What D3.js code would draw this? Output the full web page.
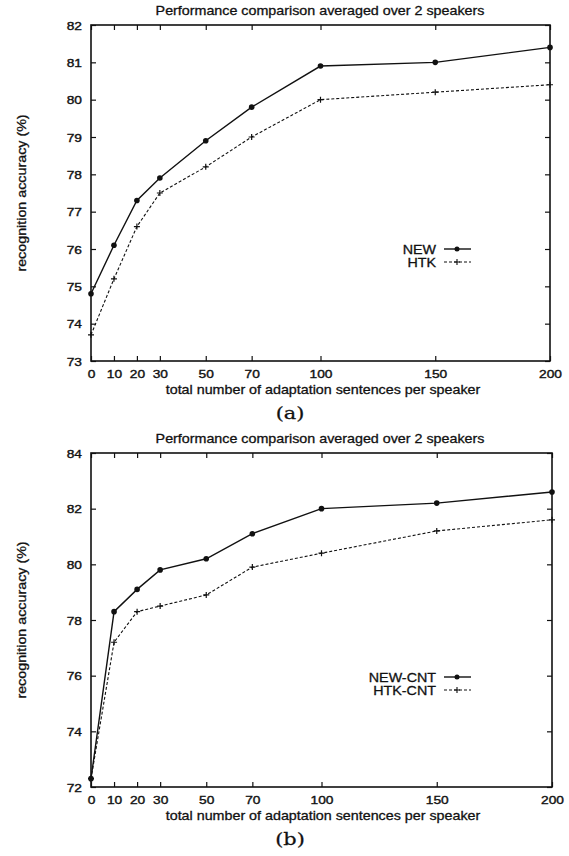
<!DOCTYPE html>
<html>
<head>
<meta charset="utf-8">
<script src="https://cdn.jsdelivr.net/npm/d3@7"></script>
<style>
  body { margin: 0; background: #fff; }
  svg { display: block; }
  text { font-family: "Liberation Sans", Arial, Helvetica, sans-serif; fill: #111; }
</style>
</head>
<body>
<svg id="chart" width="569" height="856"></svg>
<script>
// x values shared by both panels
const sentences = [0, 10, 20, 30, 50, 70, 100, 150, 200];
const xTicks = [0, 10, 20, 30, 50, 70, 100, 150, 200];

// panel (a)
const newA = [74.8, 76.1, 77.3, 77.9, 78.9, 79.8, 80.9, 81.0, 81.4];
const htkA = [73.7, 75.2, 76.6, 77.5, 78.2, 79.0, 80.0, 80.2, 80.4];
const yTicksA = [73, 74, 75, 76, 77, 78, 79, 80, 81, 82];

// panel (b)
const newB = [72.3, 78.3, 79.1, 79.8, 80.2, 81.1, 82.0, 82.2, 82.6];
const htkB = [72.3, 77.2, 78.3, 78.5, 78.9, 79.9, 80.4, 81.2, 81.6];
const yTicksB = [72, 74, 76, 78, 80, 82, 84];

const title = "Performance comparison averaged over 2 speakers";
const xLabel = "total number of adaptation sentences per speaker";
const yLabel = "recognition accuracy (%)";

// the scanned lettering is a bit wider than it is tall
const SX = 1.1, SY = 0.92;

const svg = d3.select("#chart");

function label(g, x, y, str, size, extra) {
    return g.append("text")
        .attr("transform", `translate(${x},${y}) ${extra || ""} scale(${SX},${SY})`)
        .attr("font-size", size)
        .attr("stroke", "#111").attr("stroke-width", 0.3)
        .text(str);
}

function drawPanel(opt) {
    const x = d3.scaleLinear().domain([0, 200]).range([opt.left, opt.right]);
    const y = d3.scaleLinear().domain(opt.yDomain).range([opt.bottom, opt.top]);
    const g = svg.append("g");

    label(g, 320, opt.top - 10, title, 13).attr("text-anchor", "middle");

    // axes, ticks inward on all four sides
    const bottomAxis = d3.axisBottom(x).tickValues(xTicks).tickSizeInner(-5).tickSizeOuter(0);
    const topAxis = d3.axisTop(x).tickValues(xTicks).tickSizeInner(-5).tickSizeOuter(0).tickFormat("");
    const leftAxis = d3.axisLeft(y).tickValues(opt.yTicks).tickSizeInner(-5).tickSizeOuter(0);
    const rightAxis = d3.axisRight(y).tickValues(opt.yTicks).tickSizeInner(-5).tickSizeOuter(0).tickFormat("");

    const gb = g.append("g").attr("transform", `translate(0,${opt.bottom})`).call(bottomAxis);
    g.append("g").attr("transform", `translate(0,${opt.top})`).call(topAxis);
    const gl = g.append("g").attr("transform", `translate(${opt.left},0)`).call(leftAxis);
    g.append("g").attr("transform", `translate(${opt.right},0)`).call(rightAxis);

    g.selectAll(".domain").remove();
    g.selectAll(".tick line").attr("stroke", "#111").attr("stroke-width", 1.2);
    g.selectAll(".tick text")
        .attr("font-size", 12.5)
        .attr("fill", "#111")
        .attr("stroke", "#111").attr("stroke-width", 0.4)
        .attr("x", null).attr("y", null);
    gb.selectAll(".tick text")
        .attr("dy", null)
        .attr("transform", `translate(0,17) scale(${SX},${SY})`);
    gl.selectAll(".tick text")
        .attr("dy", "0.36em")
        .attr("transform", `translate(-9,0) scale(${SX},${SY})`);

    // frame
    g.append("rect")
        .attr("x", opt.left).attr("y", opt.top)
        .attr("width", opt.right - opt.left).attr("height", opt.bottom - opt.top)
        .attr("fill", "none").attr("stroke", "#111").attr("stroke-width", 1.6);

    // axis labels
    label(g, 323, opt.bottom + 32.5, xLabel, 13).attr("text-anchor", "middle");
    label(g, 26, (opt.top + opt.bottom) / 2, yLabel, 13, "rotate(-90)").attr("text-anchor", "middle");

    // sub-figure label (serif, like the caption font of the paper)
    label(g, 290, opt.bottom + 58, opt.tag, 19)
        .attr("text-anchor", "middle")
        .style("font-family", "'DejaVu Serif', 'Liberation Serif', serif")
        .attr("stroke-width", 0.3);

    const line = d3.line().x((d, i) => x(sentences[i])).y(d => y(d));

    // dashed series
    g.append("path").datum(opt.htk)
        .attr("d", line).attr("fill", "none")
        .attr("stroke", "#111").attr("stroke-width", 1.1)
        .attr("stroke-dasharray", "3,2");
    g.append("g").selectAll("path")
        .data(opt.htk)
        .join("path")
        .attr("d", (d, i) => `M${x(sentences[i]) - 3},${y(d)}h6M${x(sentences[i])},${y(d) - 3}v6`)
        .attr("stroke", "#111").attr("stroke-width", 1.2);

    // solid series
    g.append("path").datum(opt.neu)
        .attr("d", line).attr("fill", "none")
        .attr("stroke", "#111").attr("stroke-width", 1.4);
    g.append("g").selectAll("circle")
        .data(opt.neu)
        .join("circle")
        .attr("cx", (d, i) => x(sentences[i]))
        .attr("cy", d => y(d))
        .attr("r", 2.8)
        .attr("fill", "#111");

    // legend
    const lg = g.append("g");
    const items = [
        { name: opt.names[0], dash: null, marker: "dot", w: 1.4 },
        { name: opt.names[1], dash: "3,2", marker: "plus", w: 1.1 }
    ];
    items.forEach((it, i) => {
        const ly = opt.legendY + i * 13;
        label(lg, 436, ly + 4.5, it.name, 13).attr("text-anchor", "end");
        lg.append("line")
            .attr("x1", 444).attr("x2", 471).attr("y1", ly).attr("y2", ly)
            .attr("stroke", "#111").attr("stroke-width", it.w)
            .attr("stroke-dasharray", it.dash);
        if (it.marker === "dot") {
            lg.append("circle").attr("cx", 457).attr("cy", ly).attr("r", 2.5).attr("fill", "#111");
        } else {
            lg.append("path").attr("d", `M454,${ly}h6M457,${ly - 3}v6`)
                .attr("stroke", "#111").attr("stroke-width", 1.1);
        }
    });
}

drawPanel({
    left: 91, right: 550, top: 25, bottom: 361,
    yDomain: [73, 82], yTicks: yTicksA,
    neu: newA, htk: htkA, names: ["NEW", "HTK"],
    legendY: 249, tag: "(a)"
});

drawPanel({
    left: 91, right: 552, top: 453, bottom: 787,
    yDomain: [72, 84], yTicks: yTicksB,
    neu: newB, htk: htkB, names: ["NEW-CNT", "HTK-CNT"],
    legendY: 677, tag: "(b)"
});
</script>
</body>
</html>
